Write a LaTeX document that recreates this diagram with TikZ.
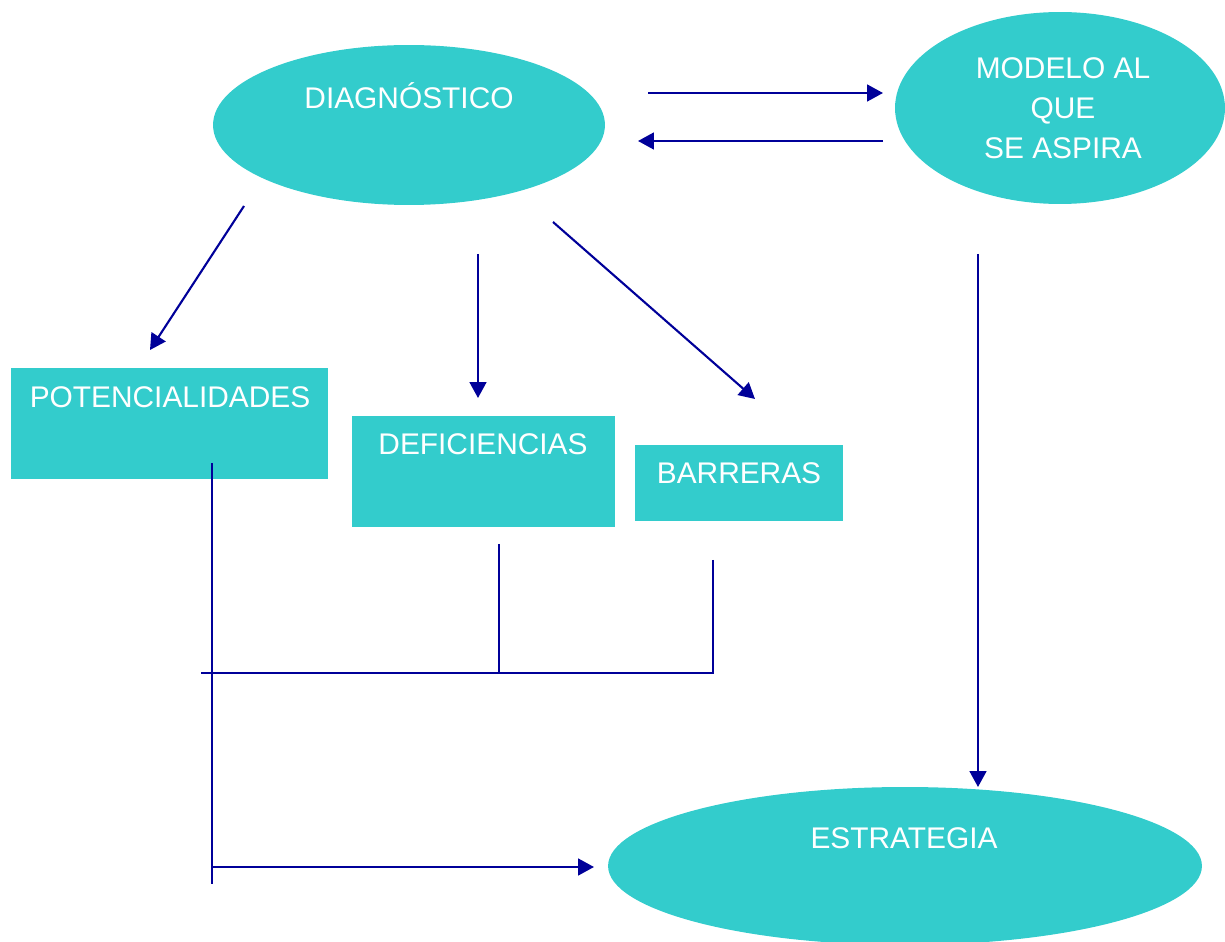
\documentclass[tikz,border=0pt]{standalone}
\usepackage{fontspec}
\setmainfont{Liberation Sans}
\usepackage{tikz}
\usetikzlibrary{positioning, arrows.meta, shapes.geometric}

\definecolor{turq}{RGB}{51,204,204}
\definecolor{navy}{RGB}{0,0,153}

\begin{document}
\begin{tikzpicture}[x=0.02cm, y=-0.02cm, >={Triangle[length=9pt, width=9.5pt]},
        every node/.style={inner sep=0pt, outer sep=0pt},
        blob/.style={ellipse, fill=turq},
        box/.style={rectangle, fill=turq},
        txt/.style={text=white, font=\fontsize{17}{22.7}\selectfont, align=center},
        conn/.style={draw=navy, line width=1.2pt}]
        \useasboundingbox (0,0) rectangle (1225,942);

        % shapes
        \node[blob, minimum width=7.84cm, minimum height=3.2cm] (diag) at (409,125) {};
        \node[blob, minimum width=6.6cm, minimum height=3.84cm] (modelo) at (1060,108) {};
        \node[blob, minimum width=11.88cm, minimum height=3.16cm] (estr) at (905,866) {};
        \node[box, minimum width=6.34cm, minimum height=2.22cm] (pot) at (169.5,423.5) {};
        \node[box, minimum width=5.26cm, minimum height=2.22cm] (def) at (483.5,471.5) {};
        \node[box, minimum width=4.16cm, minimum height=1.52cm] (bar) at (739,483) {};

        % texts
        \node[txt] (diagt) at (409,96) {DIAGNÓSTICO};
        \node[txt] (modelot) at (1063,108) {MODELO AL\\QUE\\SE ASPIRA};
        \node[txt] (estrt) at (904,838) {ESTRATEGIA};
        \node[txt] (pott) at (170,397) {POTENCIALIDADES};
        \node[txt] (deft) at (483,444) {DEFICIENCIAS};
        \node[txt] (bart) at (739,473) {BARRERAS};

        % connector ends
        \coordinate (dm1) at (648,93);
        \coordinate (dm2) at (883,93);
        \coordinate (md1) at (883,141);
        \coordinate (md2) at (638,141);
        \coordinate (dp1) at (244,206);
        \coordinate (dp2) at (150,350);
        \coordinate (dd1) at (478,254);
        \coordinate (dd2) at (478,398);
        \coordinate (db1) at (553,222);
        \coordinate (db2) at (755,399);
        \coordinate (me1) at (978,254);
        \coordinate (me2) at (978,787);
        \coordinate (pv1) at (212,463);
        \coordinate (pv2) at (212,884);
        \coordinate (hl1) at (201,673);
        \coordinate (hl2) at (713,673);
        \coordinate (dv1) at (499,544);
        \coordinate (dv2) at (499,673);
        \coordinate (bv1) at (713,560);
        \coordinate (pe1) at (212,867);
        \coordinate (pe2) at (594,867);

        \draw[conn, ->] (dm1) -- (dm2);
        \draw[conn, ->] (md1) -- (md2);
        \draw[conn, ->] (dp1) -- (dp2);
        \draw[conn, ->] (dd1) -- (dd2);
        \draw[conn, ->] (db1) -- (db2);
        \draw[conn, ->] (me1) -- (me2);
        \draw[conn] (pv1) -- (pv2);
        \draw[conn] (dv1) -- (dv2);
        \draw[conn] (bv1) -- (hl2) -- (hl1);
        \draw[conn, ->] (pe1) -- (pe2);
    \end{tikzpicture}
\end{document}
